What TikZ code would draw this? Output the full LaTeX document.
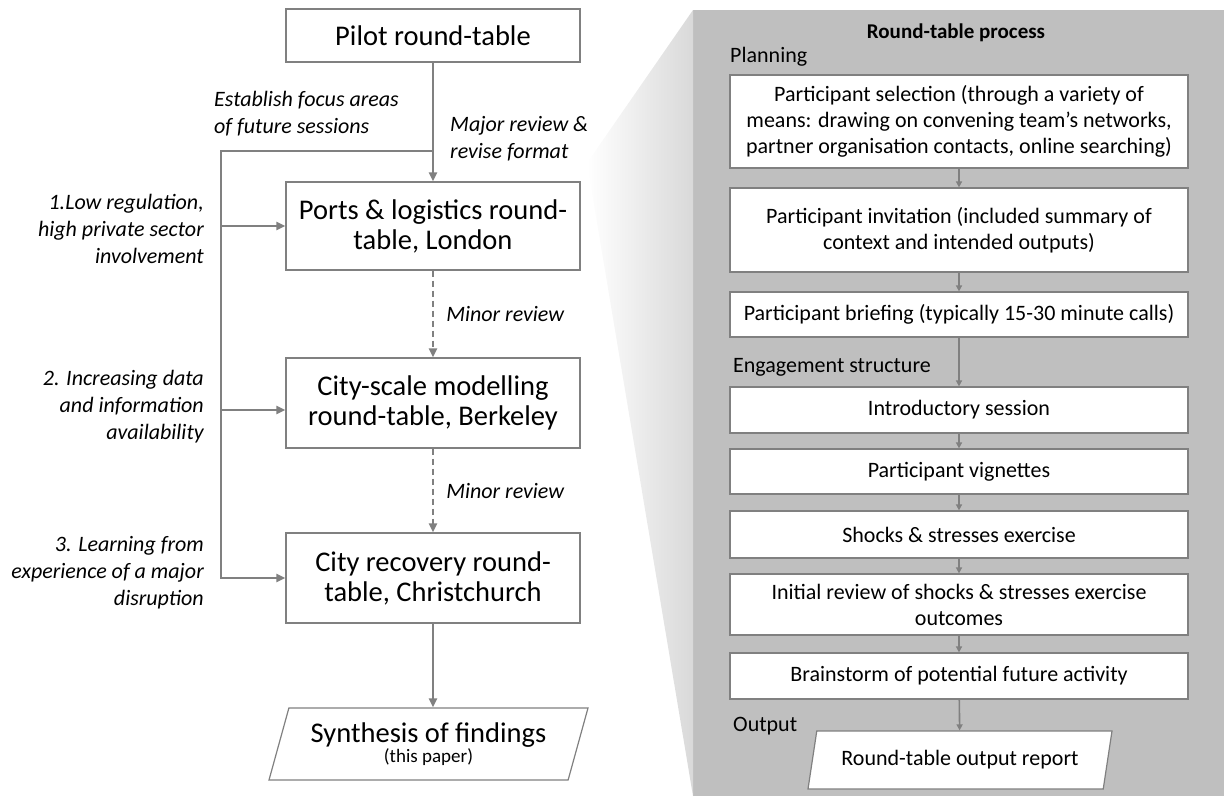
\documentclass[tikz,border=0pt]{standalone}
\usepackage{fontspec}
\setmainfont{Carlito}
\usepackage{tikz}
\usetikzlibrary{positioning, calc, arrows.meta, shapes.geometric}

\definecolor{linegray}{HTML}{808080}
\definecolor{panelgray}{HTML}{BFBFBF}
\definecolor{fadegray}{HTML}{D9D9D9}

\tikzset{
  bigbox/.style = {draw=linegray, line width=1.2pt, fill=white, minimum width=294pt,
    align=center, inner sep=0pt, font=\fontsize{28.5}{30}\selectfont},
  procbox/.style = {draw=linegray, line width=1.2pt, fill=white, minimum width=458pt,
    align=center, inner sep=0pt, font=\fontsize{22}{26}\selectfont},
  slanted/.style = {trapezium, trapezium left angle=65, trapezium right angle=115,
    trapezium stretches body=true, draw=linegray, line width=1.2pt, fill=white,
    inner sep=0pt, align=center},
  flow/.style = {draw=linegray, line width=2.5pt, -{Triangle[length=9pt,width=8pt]}},
  minorflow/.style = {flow, dash pattern=on 6pt off 4pt},
  stepflow/.style = {draw=linegray, line width=1.6pt, -{Triangle[length=6pt,width=6pt]}},
  note/.style = {font=\fontsize{22}{27}\selectfont\itshape, inner sep=0pt},
  heading/.style = {font=\fontsize{22}{24}\selectfont, inner sep=0pt, anchor=west},
}

\begin{document}
\begin{tikzpicture}[x=1pt, y=-1pt]
    \useasboundingbox (0,0) rectangle (1224,796);

    % grey process panel and its fade
    \fill [panelgray] (693,10) rectangle (1224,796);
    \shade [left color=white, right color=fadegray] (693,10) -- (587,163) -- (693,796) -- cycle;

    % left column: the series of round-tables
    \node (pilot) [bigbox, minimum height=53pt] at (433,35.5) {Pilot round-table};
    \node (ports) [bigbox, minimum height=88pt] at (433,226) {Ports \& logistics round-\\table, London};
    \node (city) [bigbox, minimum height=90pt] at (433,403) {City-scale modelling\\round-table, Berkeley};
    \node (chch) [bigbox, minimum height=90pt] at (433,578) {City recovery round-\\table, Christchurch};
    \node (synth) [slanted, minimum width=319pt, minimum height=72pt] at (428.5,744)
        {\fontsize{28.5}{29}\selectfont Synthesis of findings\\\fontsize{19}{26}\selectfont (this paper)};

    \coordinate (fork) at (433,151);
    \coordinate (rail) at (221,151);

    \draw [flow] (pilot) -- (ports);
    \draw [flow] (fork) -- (rail) |- (chch.west);
    \draw [flow] (rail |- ports.west) -- (ports.west);
    \draw [flow] ($(rail |- city.west) + (0,7)$) -- ($(city.west) + (0,7)$);
    \draw [minorflow] (ports) -- (city) node [midway, right=12pt, note] {Minor review};
    \draw [minorflow] (city) -- (chch) node [midway, right=12pt, note] {Minor review};
    \draw [flow] (chch.south) -- (chch.south |- synth.north);

    \node (focus) [note, align=left, anchor=west] at (214,114) {Establish focus areas\\of future sessions};
    \node (major) [note, align=left, anchor=west] at (450,139) {Major review \&\\revise format};
    \node (why1) [note, align=right, anchor=east] at (204,229)
        {1.Low regulation,\\high private sector\\involvement};
    \node (why2) [note, align=right, anchor=east] at (204,407)
        {2. Increasing data\\and information\\availability};
    \node (why3) [note, align=right, anchor=east] at (204,573)
        {3. Learning from\\experience of a major\\disruption};

    % right panel: steps of one round-table
    \node (title) [font=\fontsize{21}{24}\selectfont\bfseries] at (956,33) {Round-table process};
    \node (plan) [heading] at (730,57) {Planning};
    \node (select) [procbox, minimum height=93pt] at (959,121.5)
        {Participant selection (through a variety of\\means: drawing on convening team’s networks,\\partner organisation contacts, online searching)};
    \node (invite) [procbox, minimum height=84pt] at (959,230)
        {Participant invitation (included summary of\\context and intended outputs)};
    \node (brief) [procbox, minimum height=45pt] at (959,314.5)
        {Participant briefing (typically 15-30 minute calls)};
    \node (engage) [heading] at (733,367) {Engagement structure};
    \node (intro) [procbox, minimum height=46pt] at (959,410) {Introductory session};
    \node (vign) [procbox, minimum height=45pt] at (959,471.5) {Participant vignettes};
    \node (shock) [procbox, minimum height=47pt] at (959,534.5) {Shocks \& stresses exercise};
    \node (review) [procbox, minimum height=61pt] at (959,604.5)
        {Initial review of shocks \& stresses exercise\\outcomes};
    \node (storm) [procbox, minimum height=46pt] at (959,676) {Brainstorm of potential future activity};
    \node (outlbl) [heading] at (733,726) {Output};
    \node (report) [slanted, minimum width=304pt, minimum height=58pt] at (960,760)
        {\fontsize{22}{24}\selectfont Round-table output report};

    \foreach \a/\b in {select/invite, invite/brief, brief/intro, intro/vign,
        vign/shock, shock/review, review/storm, storm/report}
        \draw [stepflow] (\a) -- (\b);
\end{tikzpicture}
\end{document}
